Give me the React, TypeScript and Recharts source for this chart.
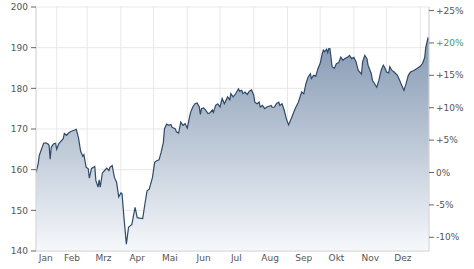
import { Area, AreaChart, CartesianGrid, XAxis, YAxis } from "recharts";

// day of year (Jan 1 = 0) and closing price
const days = [
  12, 14, 15, 17, 19, 21, 23, 24, 25, 26, 28, 30, 31, 33, 35, 37, 38, 40, 42, 44, 47, 49, 51, 53, 55, 56, 58, 60, 61, 63,
  66, 67, 69, 70, 71, 73, 75, 77, 79, 80, 82, 84, 86, 88, 90, 91, 93, 95, 97, 99, 100, 103, 105, 107, 110, 112, 114, 116,
  119, 121, 123, 125, 127, 129, 130, 132, 134, 136, 137, 140, 141, 143, 145, 147, 149, 151, 153, 154, 156, 158, 160, 162,
  163, 164, 166, 168, 170, 172, 174, 175, 177, 179, 181, 183, 185, 188, 190, 191, 193, 195, 198, 199, 201, 202, 204, 206,
  208, 210, 212, 213, 215, 217, 218, 220, 222, 224, 226, 228, 229, 231, 233, 235, 236, 238, 240, 242, 244, 247, 250, 253,
  256, 258, 260, 262, 264, 265, 267, 269, 271, 273, 275, 276, 277, 279, 280, 281, 282, 284, 286, 288, 290, 292, 294, 296,
  298, 300, 302, 304, 306, 308, 311, 312, 314, 316, 317, 320, 321, 324, 325, 327, 329, 331, 332, 334, 336, 337, 339, 341,
  344, 346, 348, 350, 352, 354, 356, 359, 362, 365, 367, 369, 370, 372, 373,
];
const prices = [
  159.3, 161.5, 163.5, 165.0, 166.5, 166.6, 166.3, 166.0, 162.6, 165.5, 166.3, 166.5, 165.0, 166.4, 167.0, 167.6, 168.9,
  168.4, 169.0, 169.4, 169.7, 169.9, 167.9, 164.5, 163.3, 163.7, 160.6, 160.2, 157.9, 160.3, 160.8, 157.3, 155.7, 157.5,
  155.7, 159.2, 159.8, 160.4, 159.8, 160.6, 161.0, 158.1, 156.9, 153.3, 154.3, 154.1, 147.6, 141.7, 145.8, 146.3, 146.5,
  150.7, 148.2, 148.1, 148.0, 151.5, 154.8, 155.2, 158.1, 161.8, 162.2, 162.4, 164.3, 166.7, 170.0, 171.2, 170.9, 171.1,
  170.4, 170.0, 169.3, 169.0, 171.7, 170.9, 171.3, 170.2, 172.9, 174.1, 175.4, 176.2, 176.4, 175.4, 173.6, 175.0, 175.2,
  174.6, 173.8, 174.0, 174.7, 174.1, 175.8, 176.2, 175.4, 177.5, 176.2, 177.9, 177.2, 178.7, 177.9, 178.5, 179.9, 179.3,
  179.5, 178.7, 179.1, 178.5, 179.3, 179.6, 178.3, 176.6, 176.2, 176.6, 175.4, 175.8, 175.0, 175.4, 175.6, 175.8, 175.3,
  175.4, 176.3, 176.6, 175.8, 176.2, 174.6, 172.5, 171.0, 172.9, 175.0, 176.6, 179.1, 178.7, 181.2, 182.8, 183.6, 182.4,
  183.2, 183.0, 184.9, 186.1, 188.6, 189.4, 189.0, 189.6, 188.8, 189.8, 189.8, 185.3, 184.9, 186.1, 186.3, 187.7, 186.9,
  187.4, 187.6, 188.1, 187.3, 187.6, 186.5, 184.4, 183.5, 186.5, 188.1, 187.3, 185.7, 183.6, 182.0, 180.7, 180.3, 182.0,
  184.4, 185.7, 185.3, 184.0, 183.8, 185.3, 184.4, 184.0, 183.2, 182.0, 180.7, 179.5, 181.2, 183.2, 184.0, 184.4, 184.9,
  185.4, 186.1, 187.5, 190.0, 192.3, 191.8,
];

const monthLabels = ["Jan", "Feb", "Mrz", "Apr", "Mai", "Jun", "Jul", "Aug", "Sep", "Okt", "Nov", "Dez"];
const monthLabelDays = [21, 45, 74, 105, 135, 166, 196, 227, 258, 288, 319, 349];
const monthStarts = [31, 59, 90, 120, 151, 181, 212, 243, 273, 304, 334, 365];
const priceTicks = [140, 150, 160, 170, 180, 190, 200];
const pctTicks = [-10, -5, 0, 5, 10, 15, 20, 25];

const data = days.map((d, i) => ({ day: d, price: prices[i] }));
const base = prices[0];
const priceDomain = [140, 200];
const pctDomain = priceDomain.map((v) => (v / base - 1) * 100);

const font = "'DejaVu Sans', Verdana, sans-serif";
const textColor = "#555";

function PctTick(props: any) {
  const { x, y, payload } = props;
  const v = payload.value as number;
  const label = v > 0 ? `+${v}%` : `${v}%`;
  return (
    <text x={x} y={y} dy={3} textAnchor="start" fontSize={9} fontFamily={font} fill={v === 20 ? "#3f9a5f" : textColor}>
      {label}
    </text>
  );
}

export default function App() {
  return (
    <div style={{ position: "absolute", left: 0, top: 0, background: "#fff" }}>
      <AreaChart width={474} height={269} data={data} margin={{ top: 7, right: 0, bottom: 0, left: 0 }}>
        <defs>
          <linearGradient id="fill" x1="0" y1="0" x2="0" y2="1">
            <stop offset="0%" stopColor="#8599b3" />
            <stop offset="100%" stopColor="#f6f8fb" />
          </linearGradient>
        </defs>
        <XAxis
          dataKey="day"
          type="number"
          domain={[12, 373]}
          ticks={monthLabelDays}
          tickFormatter={(d) => monthLabels[monthLabelDays.indexOf(d)]}
          height={18}
          tickLine={false}
          tickSize={0}
          tickMargin={4}
          axisLine={{ stroke: "#d6d6d6" }}
          tick={{ fill: textColor, fontSize: 9, fontFamily: font }}
          allowDataOverflow
        />
        <XAxis xAxisId="grid" dataKey="day" type="number" domain={[12, 373]} ticks={monthStarts} hide allowDataOverflow />
        <YAxis
          yAxisId="price"
          type="number"
          domain={priceDomain}
          ticks={priceTicks}
          width={36}
          tickSize={5}
          tickMargin={3}
          axisLine={{ stroke: "#d6d6d6" }}
          tickLine={{ stroke: "#666" }}
          tick={{ fill: textColor, fontSize: 9, fontFamily: font }}
          allowDataOverflow
        />
        <YAxis
          yAxisId="pct"
          orientation="right"
          type="number"
          domain={pctDomain}
          ticks={pctTicks}
          width={45}
          tickSize={5}
          tickMargin={2}
          axisLine={{ stroke: "#d6d6d6" }}
          tickLine={{ stroke: "#666" }}
          tick={<PctTick />}
          allowDataOverflow
        />
        <Area
          yAxisId="price"
          type="linear"
          dataKey="price"
          stroke="#2f4a68"
          strokeWidth={1.2}
          fill="url(#fill)"
          fillOpacity={1}
          baseValue={140}
          isAnimationActive={false}
          dot={false}
          activeDot={false}
        />
        <CartesianGrid xAxisId="grid" yAxisId="price" stroke="#e2e2e2" strokeOpacity={0.8} />
      </AreaChart>
    </div>
  );
}
